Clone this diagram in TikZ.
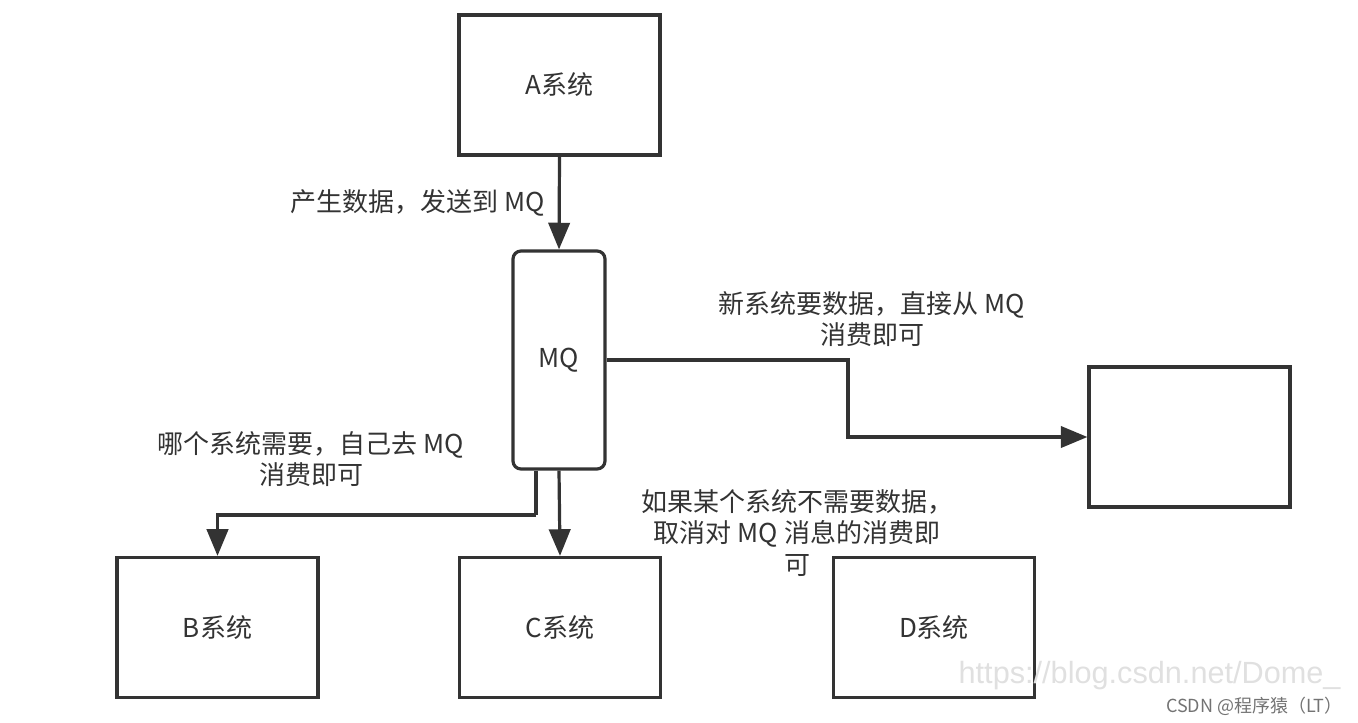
\documentclass[tikz,border=0pt]{standalone}
\usepackage{fontspec}
\setmainfont{Noto Sans CJK SC}
\newfontfamily\wmfont{Liberation Sans}
\usetikzlibrary{arrows.meta}
\definecolor{inkgray}{RGB}{51,51,51}
\tikzset{every picture/.style={line width=0.75pt}}
\tikzset{
  sysbox/.style={draw=inkgray, line width=2.4pt, fill=white, minimum width=150.75pt, minimum height=105pt, inner sep=0pt, font=\fontsize{19.5}{23}\selectfont, text=inkgray},
  mqbox/.style={sysbox, rounded corners=6pt, minimum width=69pt, minimum height=163.5pt},
  conn/.style={draw=inkgray, line width=2.4pt, -{Triangle[length=20pt,width=16pt]}},
  plainconn/.style={draw=inkgray, line width=2.4pt},
  note/.style={align=center, inner sep=0.75pt, text=inkgray, font=\fontsize{19.5}{23.5}\selectfont}
}

\begin{document}
\begin{tikzpicture}[x=0.75pt,y=0.75pt,yscale=-1,xscale=1]
\useasboundingbox (0,0) rectangle (1358,722);

%Shape: Rectangle [A]
\node[sysbox] (A) at (559.5,85) {A系统};
%Shape: Rounded Rectangle [MQ]
\node[mqbox] (mq) at (559,360) {MQ};
%Shape: Rectangle [new system]
\node[sysbox] (newsys) at (1189.5,437) {};
%Shape: Rectangle [B]
\node[sysbox] (B) at (217.5,627.5) {B系统};
%Shape: Rectangle [C]
\node[sysbox] (C) at (560,627.5) {C系统};
%Shape: Rectangle [D]
\node[sysbox] (D) at (934,627.5) {D系统};

%Bend points
\coordinate (mqleft) at ([xshift=-17.25pt]mq.south);
\coordinate (turnL) at (536,515);
\coordinate (turnR) at (848,400);

%Connectors
\draw[conn] (A.south) -- (mq.north);
\draw[conn] (mq.east) -| (turnR) |- (newsys.west);
\draw[conn] (mq.south) -- (C.north);
\draw[plainconn] (mqleft) -- (turnL);
\draw[conn] (turnL) -| (B.north);

% Text Node
\node[note, anchor=east] (lblsend) at (546,203) {产生数据，发送到 MQ};
% Text Node
\node[note] (lblnew) at (872,319) {新系统要数据，直接从 MQ\\消费即可};
% Text Node
\node[note] (lblneed) at (311,459) {哪个系统需要，自己去 MQ\\消费即可};
% Text Node
\node[note] (lblcancel) at (797,533) {如果某个系统不需要数据，\\取消对 MQ 消息的消费即\\可};

% Watermark
\node[text=black!12, font=\wmfont\fontsize{23}{26}\selectfont, anchor=east, inner sep=0pt] (wmurl) at (1341,676) {https://blog.csdn.net/Dome\_};
\node[text=black!55, font=\fontsize{13.5}{15}\selectfont, anchor=east, inner sep=0pt] (wmname) at (1343,706) {CSDN @程序猿（LT）};
\end{tikzpicture}
\end{document}
